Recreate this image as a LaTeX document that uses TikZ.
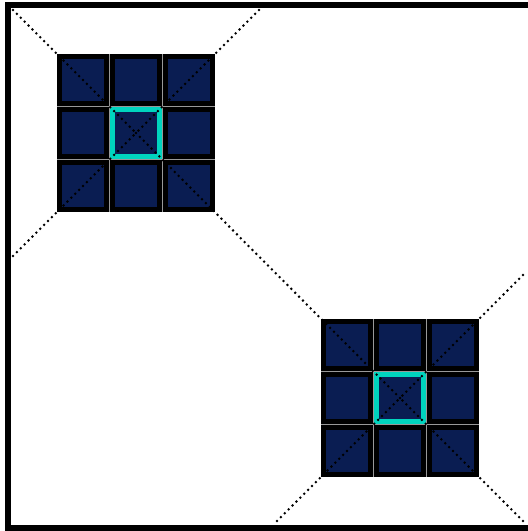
\documentclass[tikz,border=0pt]{standalone}
\definecolor{navy}{RGB}{10,29,82}
\definecolor{tiffany}{RGB}{0,212,190}
\tikzset{
  cell/.style={draw=black, fill=navy, line width=5.5pt, minimum size=47.2pt, inner sep=0pt, outer sep=0pt},
  gridline/.style={gray!80, line width=0.8pt},
  dotline/.style={line width=2.8pt, line cap=round, dash pattern=on 0pt off 5.5pt},
}
\begin{document}
\begin{tikzpicture}[x=1pt, y=-1pt]
  \useasboundingbox (0,0) rectangle (528,531);
  \clip (0,0) rectangle (528,531);

  % 1. 外框 (右边在图外)
  \draw[line width=6pt] (7.5,5) rectangle (560,527.5);

  % 2. 两个 3x3 方格, 中间一格用青色边
  \foreach \g/\ox/\oy in {a/57/54, b/321/319} {
    \foreach \i in {0,1,2} {
      \foreach \j in {0,1,2} {
        \ifnum\i\j=11 \def\rim{tiffany}\else\def\rim{black}\fi
        \node[cell, draw=\rim] (\g\i\j) at ({\ox+52.67*(\i+0.5)},{\oy+52.67*(\j+0.5)}) {};
      }
    }
    % 格子之间的灰线
    \draw[gridline] (\ox+52.67,\oy) -- ++(0,158);
    \draw[gridline] (\ox+105.33,\oy) -- ++(0,158);
    \draw[gridline] (\ox,\oy+52.67) -- ++(158,0);
    \draw[gridline] (\ox,\oy+105.33) -- ++(158,0);
  }

  % 3. 虚线的端点
  \coordinate (atl) at (13,10);
  \coordinate (atr) at (259,10);
  \coordinate (abl) at (13,256);
  \coordinate (btr) at (523,275);
  \coordinate (bbl) at (277,521);
  \coordinate (bbr) at (523,521);

  % 4. 点线 (到中心格)
  \draw[dotline] (atl) -- (a11.center);
  \draw[dotline] (atr) -- (a11.center);
  \draw[dotline] (abl) -- (a11.center);
  \draw[dotline] (a11.center) -- (b11.center);
  \draw[dotline] (btr) -- (b11.center);
  \draw[dotline] (bbl) -- (b11.center);
  \draw[dotline] (bbr) -- (b11.center);
\end{tikzpicture}
\end{document}
